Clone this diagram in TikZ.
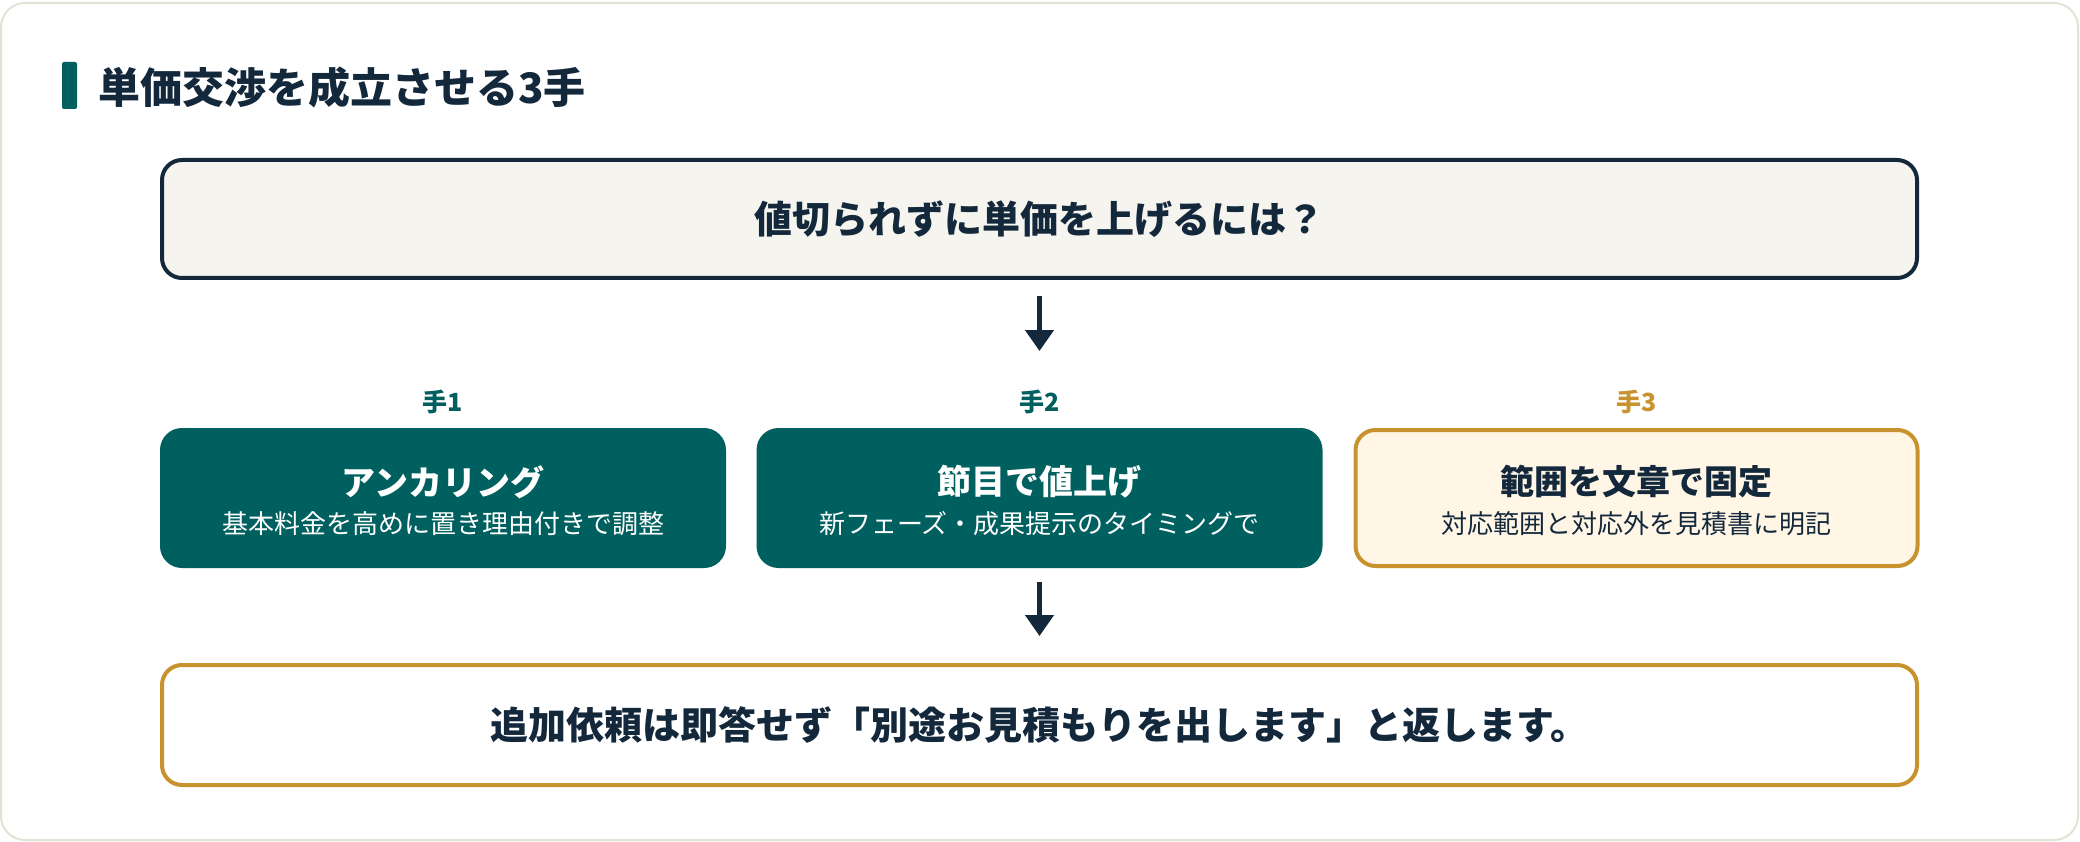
\documentclass[tikz,border=0pt]{standalone}
\usepackage{fontspec}
\setmainfont{Noto Sans CJK JP}
\usetikzlibrary{arrows.meta,positioning}

\definecolor{ink}{HTML}{14283C}
\definecolor{deepteal}{HTML}{00605F}
\definecolor{gold}{HTML}{C8922F}
\definecolor{cream}{HTML}{FFF6E6}
\definecolor{paper}{HTML}{F5F4EF}
\definecolor{cardline}{HTML}{E4E1D6}

\begin{document}
\begin{tikzpicture}[x=1pt,y=-1pt,
      wide/.style={draw,line width=4pt,rounded corners=20pt,
        minimum width=1755pt,minimum height=118pt,
        font=\fontsize{38}{46}\selectfont\bfseries,text=ink},
      stepbox/.style={line width=4pt,rounded corners=20pt,
        minimum width=562pt,minimum height=136pt},
      steptitle/.style={inner sep=0pt,font=\fontsize{34}{40}\selectfont\bfseries},
      stepnote/.style={inner sep=0pt,font=\fontsize{26}{32}\selectfont},
      tag/.style={inner sep=0pt,font=\fontsize{25}{30}\selectfont\bfseries},
      flow/.style={draw=ink,line width=4.5pt,-{Triangle[width=28pt,length=21pt]}}]
      \useasboundingbox (0,0) rectangle (2080,842);
      \fill[white] (0,0) rectangle (2080,842);
      % card and heading
      \draw[cardline,line width=2pt,fill=white,rounded corners=24pt] (1,3) rectangle (2078,840);
      \fill[deepteal,rounded corners=2pt] (62,62) rectangle (77,109);
      \node[anchor=west,inner sep=0pt,text=ink,
        font=\fontsize{42}{50}\selectfont\bfseries] (heading) at (98,88) {単価交渉を成立させる3手};
      % question
      \node[wide,draw=ink,fill=paper] (question) at (1039.5,219) {値切られずに単価を上げるには？};
      % three steps
      \node[stepbox,draw=deepteal,fill=deepteal] (s1) at (443,498) {};
      \node[stepbox,draw=deepteal,fill=deepteal] (s2) at (1039.5,498) {};
      \node[stepbox,draw=gold,fill=cream] (s3) at (1636.5,498) {};
      \node[tag,text=deepteal,above=14pt of s1] (tag1) {手1};
      \node[tag,text=deepteal,above=14pt of s2] (tag2) {手2};
      \node[tag,text=gold,above=14pt of s3] (tag3) {手3};
      \node[steptitle,text=white] (t1) at ([yshift=16pt]s1.center) {アンカリング};
      \node[stepnote,text=white] (n1) at ([yshift=-26pt]s1.center) {基本料金を高めに置き理由付きで調整};
      \node[steptitle,text=white] (t2) at ([yshift=16pt]s2.center) {節目で値上げ};
      \node[stepnote,text=white] (n2) at ([yshift=-26pt]s2.center) {新フェーズ・成果提示のタイミングで};
      \node[steptitle,text=ink] (t3) at ([yshift=16pt]s3.center) {範囲を文章で固定};
      \node[stepnote,text=ink] (n3) at ([yshift=-26pt]s3.center) {対応範囲と対応外を見積書に明記};
      % answer
      \node[wide,draw=gold,fill=white,minimum height=120pt] (answer) at (1039.5,725)
        {追加依頼は即答せず「別途お見積もりを出します」と返します。};
      % arrows
      \draw[flow,shorten <=16pt,shorten >=77pt] (question.south) -- (s2.north);
      \draw[flow,shorten <=14pt,shorten >=27pt] (s2.south) -- (answer.north);
\end{tikzpicture}
\end{document}
